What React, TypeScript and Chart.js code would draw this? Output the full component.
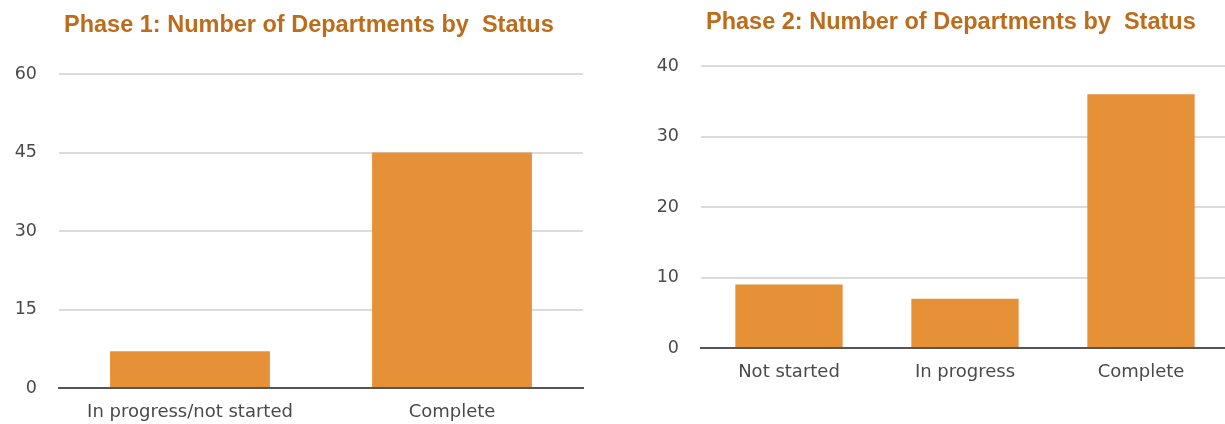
import { useEffect, useRef } from "react";
import { Chart, registerables } from "chart.js";

Chart.register(...registerables);

const phase1Title = "Phase 1: Number of Departments by  Status";
const phase1Categories = ["In progress/not started", "Complete"];
const phase1Values = [7, 45];
const phase1Ticks = [0, 15, 30, 45, 60];

const phase2Title = "Phase 2: Number of Departments by  Status";
const phase2Categories = ["Not started", "In progress", "Complete"];
const phase2Values = [9, 7, 36];
const phase2Ticks = [0, 10, 20, 30, 40];

const BAR_COLOR = "#e69138";
const TITLE_COLOR = "#bd6c1c";
const TICK_COLOR = "#4a4a4a";
const GRID_COLOR = "#dcdcdc";
const BASE_COLOR = "#555555";
const FONT = "'DejaVu Sans', sans-serif";

const titlePlugin = {
  id: "sheetTitle",
  afterDraw(chart: any, _args: any, opts: any) {
    if (!opts || !opts.text) return;
    const { ctx, chartArea } = chart;
    ctx.save();
    ctx.font = opts.font;
    ctx.fillStyle = opts.color;
    ctx.textAlign = "left";
    ctx.textBaseline = "alphabetic";
    ctx.fillText(opts.text, chartArea.left + opts.offsetX, opts.baseline);
    ctx.restore();
  },
};

function makeConfig(
  title: string,
  categories: string[],
  values: number[],
  ticks: number[],
  padding: { left: number; right: number; top: number; bottom: number },
  titleBaseline: number
): any {
  return {
    type: "bar",
    data: {
      labels: categories,
      datasets: [
        {
          data: values,
          backgroundColor: BAR_COLOR,
          borderWidth: 0,
          barPercentage: 1,
          categoryPercentage: 0.61,
        },
      ],
    },
    plugins: [titlePlugin],
    options: {
      responsive: false,
      animation: false,
      devicePixelRatio: 1,
      layout: { padding },
      plugins: {
        legend: { display: false },
        tooltip: { enabled: false },
        title: { display: false },
        sheetTitle: {
          text: title,
          font: "bold 23.5px 'Liberation Sans', Arial, sans-serif",
          color: TITLE_COLOR,
          offsetX: 5,
          baseline: titleBaseline,
        },
      },
      scales: {
        x: {
          grid: { display: false, drawTicks: false },
          border: { display: true, color: BASE_COLOR, width: 2, z: 1 },
          ticks: {
            color: TICK_COLOR,
            font: { family: FONT, size: 18 },
            padding: 14,
            maxRotation: 0,
            autoSkip: false,
          },
          afterFit: (scale: any) => {
            scale.height = 36;
          },
        },
        y: {
          min: ticks[0],
          max: ticks[ticks.length - 1],
          grid: {
            drawTicks: false,
            lineWidth: 2,
            color: (c: any) => (c.tick && c.tick.value === 0 ? BASE_COLOR : GRID_COLOR),
          },
          border: { display: false },
          ticks: {
            stepSize: ticks[1] - ticks[0],
            color: TICK_COLOR,
            font: { family: FONT, size: 17.5 },
            padding: 22,
          },
          afterBuildTicks: (scale: any) => {
            scale.ticks = ticks.map((v) => ({ value: v }));
          },
          afterFit: (scale: any) => {
            scale.width = 44;
          },
        },
      },
    },
  };
}

function BarChart(props: {
  config: any;
  left: number;
  width: number;
  height: number;
}) {
  const ref = useRef<HTMLCanvasElement | null>(null);
  useEffect(() => {
    if (!ref.current) return;
    const chart = new Chart(ref.current, props.config);
    return () => chart.destroy();
  }, []);
  return (
    <canvas
      ref={ref}
      width={props.width}
      height={props.height}
      style={{
        position: "absolute",
        left: props.left,
        top: 0,
        width: props.width,
        height: props.height,
      }}
    />
  );
}

export default function App() {
  const cfg1 = makeConfig(
    phase1Title,
    phase1Categories,
    phase1Values,
    phase1Ticks,
    { left: 15, right: 17, top: 74, bottom: 0 },
    32
  );
  const cfg2 = makeConfig(
    phase2Title,
    phase2Categories,
    phase2Values,
    phase2Ticks,
    { left: 15, right: 13, top: 66, bottom: 40 },
    28.5
  );
  return (
    <div
      style={{
        position: "fixed",
        left: 0,
        top: 0,
        width: 1225,
        height: 424,
        overflow: "hidden",
        background: "#ffffff",
      }}
    >
      <BarChart config={cfg1} left={0} width={600} height={424} />
      <BarChart config={cfg2} left={642} width={600} height={424} />
    </div>
  );
}
